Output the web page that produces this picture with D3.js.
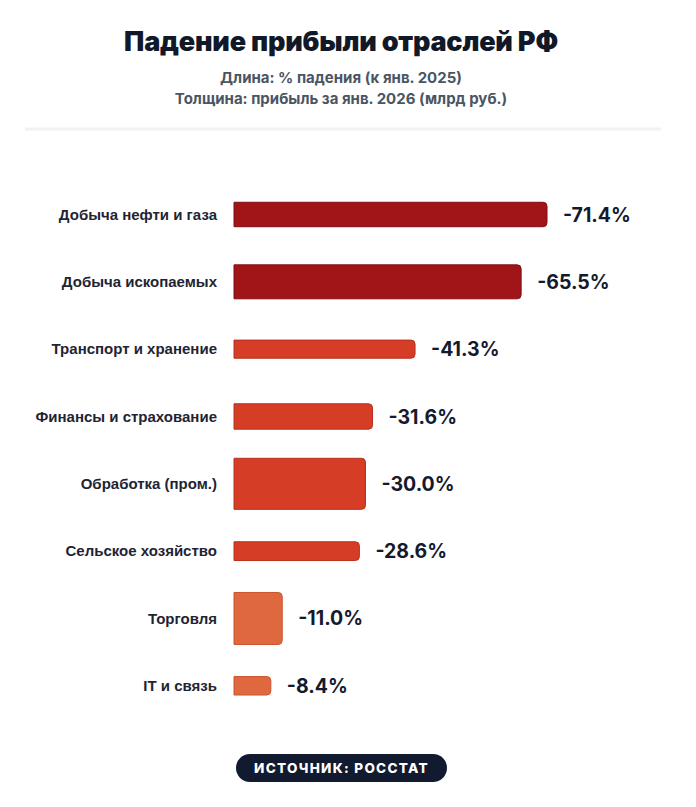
<!DOCTYPE html>
<html>
<head>
<meta charset="utf-8">
<script src="https://cdn.jsdelivr.net/npm/d3@7"></script>
<style>
  html, body { margin: 0; padding: 0; background: #ffffff; }
  svg { display: block; }
</style>
</head>
<body>
<svg id="chart" width="696" height="807"></svg>
<script>
// ---- data ----
const categories = [
  "Добыча нефти и газа",
  "Добыча ископаемых",
  "Транспорт и хранение",
  "Финансы и страхование",
  "Обработка (пром.)",
  "Сельское хозяйство",
  "Торговля",
  "IT и связь"
];
const dropPct = [71.4, 65.5, 41.3, 31.6, 30.0, 28.6, 11.0, 8.4];
// profit for Jan 2026, bn rub (estimated from bar thickness)
const profit = [165, 315, 65, 180, 585, 75, 600, 70];

const titleText = "Падение прибыли отраслей РФ";
const subtitleLines = ["Длина: % падения (к янв. 2025)", "Толщина: прибыль за янв. 2026 (млрд руб.)"];
const sourceText = "ИСТОЧНИК: РОССТАТ";

const data = categories.map((c, i) => ({ cat: c, drop: dropPct[i], profit: profit[i] }));

// ---- layout ----
const W = 696, H = 807;
const svg = d3.select("#chart");
const x0 = 234;
const cx = 341;

const x = d3.scaleLinear().domain([0, d3.max(dropPct)]).range([x0, 547]);
const y = d3.scalePoint().domain(categories).range([214.5, 685.8]);
const thick = d3.scaleLinear().domain([0, d3.max(profit)]).range([14, 52]);
const color = d3.scaleThreshold().domain([25, 50]).range(["#e0683f", "#d63d26", "#a11418"]);
const stroke = d3.scaleThreshold().domain([25, 50]).range(["#c9552f", "#b9301c", "#7e0e12"]);

// title
svg.append("text")
  .attr("x", cx).attr("y", 51)
  .attr("text-anchor", "middle")
  .attr("font-family", "Inter, 'Noto Sans', sans-serif")
  .attr("font-weight", 900)
  .attr("font-size", 27)
  .attr("fill", "#111827")
  .attr("letter-spacing", "-0.2")
  .text(titleText);

svg.selectAll("text.sub").data(subtitleLines).enter().append("text")
  .attr("class", "sub")
  .attr("x", cx)
  .attr("y", (d, i) => 83 + i * 21)
  .attr("text-anchor", "middle")
  .attr("font-family", "Inter, 'Noto Sans', sans-serif")
  .attr("font-weight", 700)
  .attr("font-size", 15)
  .attr("fill", "#4b5563")
  .text(d => d);

// divider
svg.append("rect")
  .attr("x", 25).attr("y", 127.5).attr("width", 636).attr("height", 3)
  .attr("fill", "#f0f2f5");

// bars: square on left, rounded on right
function barPath(xl, xr, yc, h, r) {
  const t = yc - h / 2, b = yc + h / 2;
  r = Math.min(r, h / 2, (xr - xl) / 2);
  return `M${xl},${t}H${xr - r}Q${xr},${t} ${xr},${t + r}V${b - r}Q${xr},${b} ${xr - r},${b}H${xl}Z`;
}

const g = svg.append("g");
g.selectAll("path.bar").data(data).enter().append("path")
  .attr("class", "bar")
  .attr("d", d => barPath(x(0), x(d.drop), y(d.cat), thick(d.profit), 4))
  .attr("fill", d => color(d.drop))
  .attr("stroke", d => stroke(d.drop))
  .attr("stroke-width", 1);

// category labels
g.selectAll("text.cat").data(data).enter().append("text")
  .attr("class", "cat")
  .attr("x", 217)
  .attr("y", d => y(d.cat))
  .attr("dy", "0.35em")
  .attr("text-anchor", "end")
  .attr("font-family", "'Liberation Sans', Arial, sans-serif")
  .attr("font-weight", 700)
  .attr("font-size", 15)
  .attr("fill", "#1f2433")
  .text(d => d.cat);

// value labels
g.selectAll("text.val").data(data).enter().append("text")
  .attr("class", "val")
  .attr("x", d => x(d.drop) + 16)
  .attr("y", d => y(d.cat))
  .attr("dy", "0.36em")
  .attr("font-family", "Inter, 'Noto Sans', sans-serif")
  .attr("font-weight", 700)
  .attr("font-size", 19.5)
  .attr("fill", "#141a2e")
  .text(d => "-" + d.drop.toFixed(1) + "%");

// source badge
const badge = svg.append("g");
badge.append("rect")
  .attr("x", 236).attr("y", 754).attr("width", 211).attr("height", 28).attr("rx", 14)
  .attr("fill", "#111a2e");
badge.append("text")
  .attr("x", 341.5).attr("y", 768)
  .attr("dy", "0.36em")
  .attr("text-anchor", "middle")
  .attr("font-family", "Inter, 'Noto Sans', sans-serif")
  .attr("font-weight", 800)
  .attr("font-size", 13.5)
  .attr("letter-spacing", "1.3")
  .attr("fill", "#ffffff")
  .text(sourceText);
</script>
</body>
</html>
